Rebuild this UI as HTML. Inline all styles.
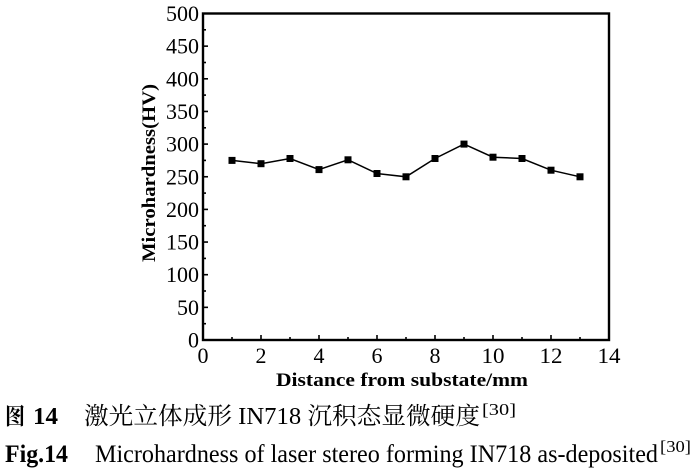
<!DOCTYPE html>
<html>
<head>
<meta charset="utf-8">
<style>
  html,body{margin:0;padding:0;background:#fff;}
  body{width:695px;height:475px;overflow:hidden;}
  svg{display:block;}
  .tk{font-family:"Liberation Serif",serif;font-size:22px;fill:#000;}
  .lb{font-family:"Liberation Serif",serif;font-size:19px;font-weight:bold;fill:#000;}
  .cap{font-family:"Liberation Serif","Noto Serif CJK SC","Noto Sans CJK SC",serif;fill:#000;}
</style>
</head>
<body>
<svg width="695" height="475" viewBox="0 0 695 475" xmlns="http://www.w3.org/2000/svg">
  <rect x="0" y="0" width="695" height="475" fill="#fff"/>
  <g stroke="#000" stroke-width="1.6">
    <line x1="203" y1="307.35" x2="208" y2="307.35"/>
    <line x1="203" y1="274.7" x2="208" y2="274.7"/>
    <line x1="203" y1="242.05" x2="208" y2="242.05"/>
    <line x1="203" y1="209.4" x2="208" y2="209.4"/>
    <line x1="203" y1="176.75" x2="208" y2="176.75"/>
    <line x1="203" y1="144.1" x2="208" y2="144.1"/>
    <line x1="203" y1="111.45" x2="208" y2="111.45"/>
    <line x1="203" y1="78.8" x2="208" y2="78.8"/>
    <line x1="203" y1="46.15" x2="208" y2="46.15"/>
    <line x1="203" y1="323.7" x2="206" y2="323.7"/>
    <line x1="203" y1="291.0" x2="206" y2="291.0"/>
    <line x1="203" y1="258.4" x2="206" y2="258.4"/>
    <line x1="203" y1="225.7" x2="206" y2="225.7"/>
    <line x1="203" y1="193.1" x2="206" y2="193.1"/>
    <line x1="203" y1="160.4" x2="206" y2="160.4"/>
    <line x1="203" y1="127.8" x2="206" y2="127.8"/>
    <line x1="203" y1="95.1" x2="206" y2="95.1"/>
    <line x1="203" y1="62.5" x2="206" y2="62.5"/>
    <line x1="203" y1="29.8" x2="206" y2="29.8"/>
    <line x1="261" y1="340" x2="261" y2="335"/>
    <line x1="319" y1="340" x2="319" y2="335"/>
    <line x1="377" y1="340" x2="377" y2="335"/>
    <line x1="435" y1="340" x2="435" y2="335"/>
    <line x1="493" y1="340" x2="493" y2="335"/>
    <line x1="551" y1="340" x2="551" y2="335"/>
    <line x1="232" y1="340" x2="232" y2="337"/>
    <line x1="290" y1="340" x2="290" y2="337"/>
    <line x1="348" y1="340" x2="348" y2="337"/>
    <line x1="406" y1="340" x2="406" y2="337"/>
    <line x1="464" y1="340" x2="464" y2="337"/>
    <line x1="522" y1="340" x2="522" y2="337"/>
    <line x1="580" y1="340" x2="580" y2="337"/>
  </g>
  <rect x="203" y="13.5" width="406" height="326.5" fill="none" stroke="#000" stroke-width="2.4"/>

  <polyline fill="none" stroke="#000" stroke-width="1.5"
    points="232,160.4 261,163.7 290,158.5 319,169.6 348,159.8 377,173.5 406,176.8 435,158.5 464,144.1 493,157.2 522,158.5 551,170.2 580,176.8"/>
  <g fill="#000">
    <rect x="228.5" y="156.9" width="7" height="7"/>
    <rect x="257.5" y="160.2" width="7" height="7"/>
    <rect x="286.5" y="155.0" width="7" height="7"/>
    <rect x="315.5" y="166.1" width="7" height="7"/>
    <rect x="344.5" y="156.3" width="7" height="7"/>
    <rect x="373.5" y="170.0" width="7" height="7"/>
    <rect x="402.5" y="173.3" width="7" height="7"/>
    <rect x="431.5" y="155.0" width="7" height="7"/>
    <rect x="460.5" y="140.6" width="7" height="7"/>
    <rect x="489.5" y="153.7" width="7" height="7"/>
    <rect x="518.5" y="155.0" width="7" height="7"/>
    <rect x="547.5" y="166.7" width="7" height="7"/>
    <rect x="576.5" y="173.3" width="7" height="7"/>
  </g>

  <g class="tk" text-anchor="end">
    <text x="199" y="347.5" textLength="11" lengthAdjust="spacingAndGlyphs">0</text>
    <text x="199" y="314.9" textLength="22" lengthAdjust="spacingAndGlyphs">50</text>
    <text x="199" y="282.2" textLength="33" lengthAdjust="spacingAndGlyphs">100</text>
    <text x="199" y="249.6" textLength="33" lengthAdjust="spacingAndGlyphs">150</text>
    <text x="199" y="216.9" textLength="33" lengthAdjust="spacingAndGlyphs">200</text>
    <text x="199" y="184.3" textLength="33" lengthAdjust="spacingAndGlyphs">250</text>
    <text x="199" y="151.6" textLength="33" lengthAdjust="spacingAndGlyphs">300</text>
    <text x="199" y="119.0" textLength="33" lengthAdjust="spacingAndGlyphs">350</text>
    <text x="199" y="86.3" textLength="33" lengthAdjust="spacingAndGlyphs">400</text>
    <text x="199" y="53.7" textLength="33" lengthAdjust="spacingAndGlyphs">450</text>
    <text x="199" y="21.0" textLength="33" lengthAdjust="spacingAndGlyphs">500</text>
  </g>
  <g class="tk" text-anchor="middle">
    <text x="203" y="363" textLength="11" lengthAdjust="spacingAndGlyphs">0</text>
    <text x="261" y="363" textLength="11" lengthAdjust="spacingAndGlyphs">2</text>
    <text x="319" y="363" textLength="11" lengthAdjust="spacingAndGlyphs">4</text>
    <text x="377" y="363" textLength="11" lengthAdjust="spacingAndGlyphs">6</text>
    <text x="435" y="363" textLength="11" lengthAdjust="spacingAndGlyphs">8</text>
    <text x="493" y="363" textLength="23" lengthAdjust="spacingAndGlyphs">10</text>
    <text x="551" y="363" textLength="23" lengthAdjust="spacingAndGlyphs">12</text>
    <text x="609" y="363" textLength="23" lengthAdjust="spacingAndGlyphs">14</text>
  </g>

  <text class="lb" x="276" y="386" textLength="252" lengthAdjust="spacingAndGlyphs">Distance from substate/mm</text>
  <text class="lb" transform="translate(155,262) rotate(-90)" x="0" y="0" textLength="178" lengthAdjust="spacingAndGlyphs">Microhardness(HV)</text>

  <g class="cap">
    <text x="5" y="424" font-size="23" font-weight="bold" textLength="20" lengthAdjust="spacingAndGlyphs">图</text>
    <text x="33" y="424" font-size="24" font-weight="bold" textLength="25" lengthAdjust="spacingAndGlyphs">14</text>
    <text x="84" y="424" font-size="24" textLength="396" lengthAdjust="spacingAndGlyphs">激光立体成形 IN718 沉积态显微硬度</text>
    <text x="482" y="415" font-size="17" textLength="34" lengthAdjust="spacingAndGlyphs">[30]</text>

    <text x="5" y="462" font-size="25" font-weight="bold" textLength="63" lengthAdjust="spacingAndGlyphs">Fig.14</text>
    <text x="95" y="462" font-size="25" textLength="563" lengthAdjust="spacingAndGlyphs">Microhardness of laser stereo forming IN718 as-deposited</text>
    <text x="660" y="452" font-size="17" textLength="31" lengthAdjust="spacingAndGlyphs">[30]</text>
  </g>
</svg>
</body>
</html>
